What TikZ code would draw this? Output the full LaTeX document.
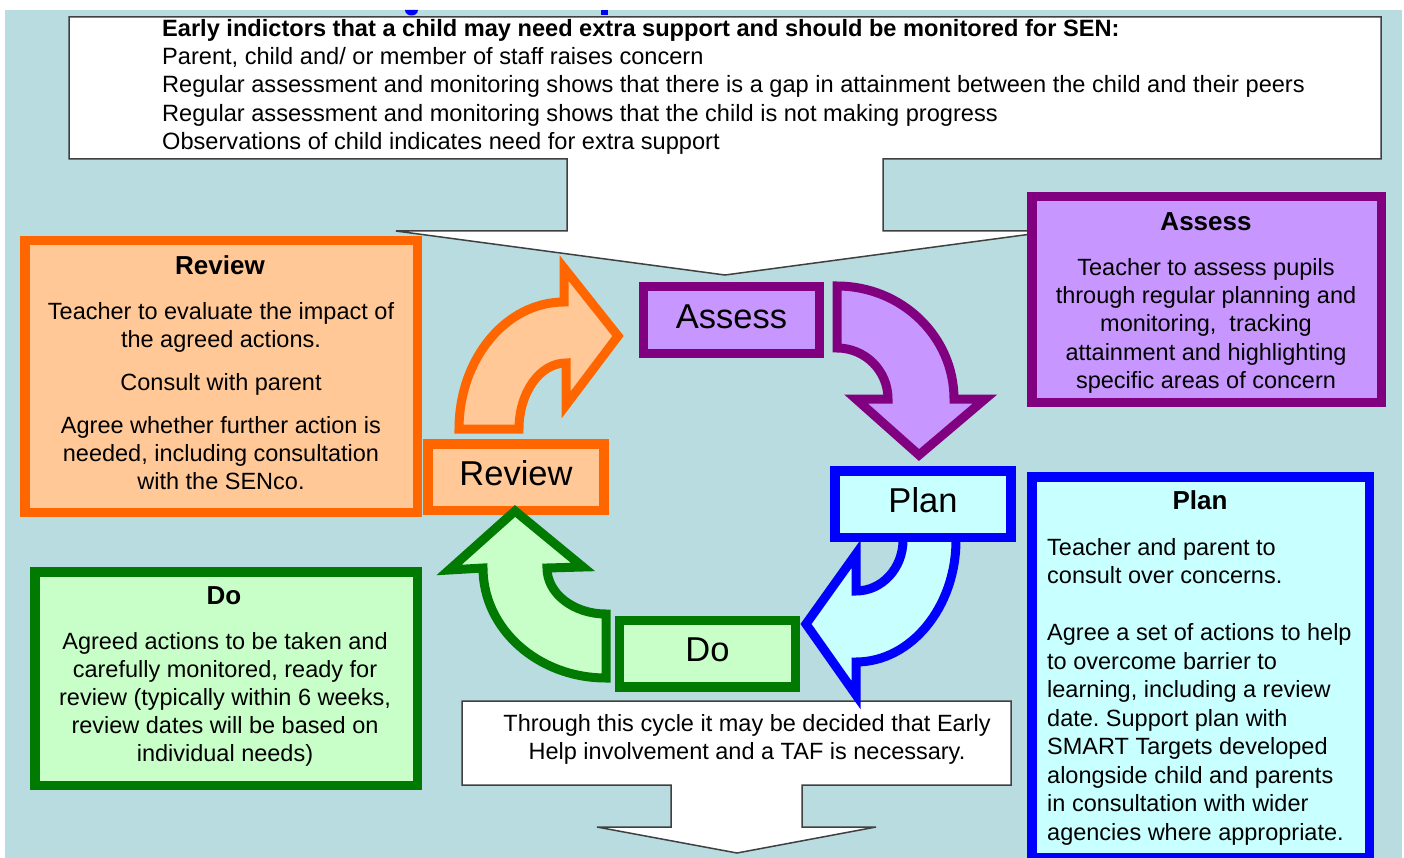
\documentclass[tikz,border=0pt]{standalone}
\usepackage{fontspec}
\setmainfont{Liberation Sans}
\frenchspacing
\definecolor{bgc}{RGB}{184,220,223}
\definecolor{orS}{RGB}{255,102,0}
\definecolor{orF}{RGB}{255,200,150}
\definecolor{puS}{RGB}{128,0,128}
\definecolor{puF}{RGB}{200,150,255}
\definecolor{blS}{RGB}{0,0,255}
\definecolor{blF}{RGB}{200,255,255}
\definecolor{grS}{RGB}{0,122,0}
\definecolor{grF}{RGB}{200,255,200}
\definecolor{edgec}{RGB}{64,64,64}
\begin{document}
\begin{tikzpicture}[x=1pt,y=-1pt,
  box/.style={rectangle,line width=9.5pt,inner sep=0pt},
  rvc/.style={draw=orS,fill=orF},
  asc/.style={draw=puS,fill=puF},
  plc/.style={draw=blS,fill=blF},
  doc/.style={draw=grS,fill=grF},
  smallbox/.style={box,minimum width=176pt,minimum height=66.5pt,
    font=\fontsize{34.5}{40}\selectfont,text height=24.7pt,text depth=8pt},
  heading/.style={inner sep=0pt,font=\bfseries\fontsize{26}{30}\selectfont},
  body/.style={inner sep=0pt,font=\fontsize{23.5}{28.25}\selectfont},
  callout/.style={draw=edgec,fill=white,line width=1.5pt,line join=miter},
  bentarrow/.style={line width=9pt,line join=miter,miter limit=10}
]
\useasboundingbox (0,0) rectangle (1404,858);
\fill[bgc] (5,10) rectangle (1402,858);
% clipped title fragments
\fill[blS] (405,10) -- (418,10) .. controls (418,14) and (414,15.5) .. (411.5,15.5)
  .. controls (409,15.5) and (405,14) .. (405,10) -- cycle;
\fill[blS] (601,10) rectangle (608,15);

% top callout
\draw[callout] (69,17) -- (1381,17) -- (1381,159) -- (883,159) -- (883,231)
  -- (1054,231) -- (725,275) -- (396,231) -- (567,231) -- (567,159) -- (69,159) -- cycle;
\node[body,anchor=west,align=left,font=\fontsize{23.6}{28.25}\selectfont] (toptext) at (162,87.2)
  {\strut\textbf{Early indictors that a child may need extra support and should be monitored for SEN:}\\
   Parent, child and/ or member of staff raises concern\\
   Regular assessment and monitoring shows that there is a gap in attainment between the child and their peers\\
   Regular assessment and monitoring shows that the child is not making progress\\
   Observations of child indicates need for extra support\strut};

% bottom callout
\draw[callout] (462,701) -- (1011,701) -- (1011,785) -- (802,785) -- (802,827)
  -- (876,827) -- (737,853) -- (597,827) -- (671,827) -- (671,785) -- (462,785) -- cycle;
\node[body,align=center] (bottext) at (747,739.7)
  {\strut Through this cycle it may be decided that Early\\
   Help involvement and a TAF is necessary.\strut};

% big boxes
\node[box,rvc,minimum width=392.5pt,minimum height=271.5pt] (reviewbig) at (221,376.5) {};
\node[heading] (reviewhead) at (220,265) {Review};
\node[body,align=center,font=\fontsize{23.5}{28.2}\selectfont] (reviewtext) at (221,398.7)
  {\strut Teacher to evaluate the impact of\\the agreed actions.\\[14.8pt]
   Consult with parent\\[14.8pt]
   Agree whether further action is\\needed, including consultation\\with the SENco.\strut};

\node[box,asc,minimum width=349.5pt,minimum height=205.5pt] (assessbig) at (1206.5,299.5) {};
\node[heading] (assesshead) at (1206,221.5) {Assess};
\node[body,align=center] (assesstext) at (1206,326.2)
  {\strut Teacher to assess pupils\\through regular planning and\\monitoring,\ \ tracking\\
   attainment and highlighting\\specific areas of concern\strut};

\node[box,doc,minimum width=382.5pt,minimum height=213.5pt] (dobig) at (226,678.5) {};
\node[heading] (dohead) at (224,596) {Do};
\node[body,align=center,font=\fontsize{23.5}{28}\selectfont] (dotext) at (225,699.7)
  {\strut Agreed actions to be taken and\\carefully monitored, ready for\\
   review (typically within 6 weeks,\\review dates will be based on\\individual needs)\strut};

\node[box,plc,minimum width=337.5pt,minimum height=380.5pt] (planbig) at (1200.5,667) {};
\node[heading] (planhead) at (1200,500) {Plan};
\node[body,anchor=west,align=left,font=\fontsize{23.5}{28.5}\selectfont] (plantext) at (1047,692.2)
  {\strut Teacher and parent to\\consult over concerns.\\\mbox{}\\
   Agree a set of actions to help\\to overcome barrier to\\learning, including a review\\
   date. Support plan with\\SMART Targets developed\\alongside child and parents\\
   in consultation with wider\\agencies where appropriate.\strut};

% blue bent arrow (Plan -> Do), under the Plan box
\draw[bentarrow,plc] (956,535) -- (956,540)
  .. controls (956,606.8) and (911,662) .. (856,662)
  -- (856,695) -- (806,624) -- (856,554) -- (856,591)
  .. controls (882,591) and (903,568.2) .. (903,540) -- (903,535) -- cycle;

% small cycle boxes
\node[smallbox,asc] (assess) at (731.5,320) {Assess};
\node[smallbox,plc] (plan) at (923,504) {Plan};
\node[smallbox,doc] (do) at (707.5,653.5) {Do};
\node[smallbox,rvc] (review) at (516,477) {Review};

% orange bent arrow (Review -> Assess)
\draw[bentarrow,rvc] (459,429) .. controls (459,358.9) and (506,302) .. (564,302)
  -- (564,268) -- (618,336) -- (566,405) -- (566,363)
  .. controls (540,363) and (519,392.5) .. (519,429) -- cycle;

% purple bent arrow (Assess -> Plan)
\draw[bentarrow,asc] (837,286) .. controls (901.6,286) and (954,336.6) .. (954,399)
  -- (985,399) -- (919,455) -- (856,399) -- (888,399)
  .. controls (888,370.8) and (865.2,348) .. (837,348) -- cycle;

% green bent arrow (Do -> Review)
\draw[bentarrow,doc] (483,568) .. controls (483,628.8) and (538,678) .. (606,678)
  -- (606,614) .. controls (573.4,614) and (547,593.4) .. (547,568)
  -- (583,567) -- (515,511) -- (449,570) -- cycle;
\end{tikzpicture}
\end{document}
